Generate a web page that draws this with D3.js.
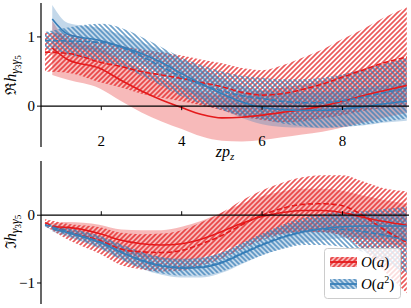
<!DOCTYPE html>
<html><head><meta charset="utf-8">
<script src="https://cdn.jsdelivr.net/npm/d3@7"></script>
<style>body{margin:0;background:#fff}svg{display:block}text{font-family:"Liberation Serif","DejaVu Serif",serif}</style>
</head><body><svg id="c" width="411" height="308"></svg>
<script>
// ---- data ----
const xSolid  = [0.78,1.17,1.95,2.5,3,3.5,4,4.5,5,5.5,6,6.5,7,7.5,8,8.5,9,9.6];
const xDashed = [0.6,1.2,2,2.5,3,3.5,4,4.5,5,5.5,6,6.5,7,7.5,8,8.5,9,9.6];
const xTicks = [2,4,6,8];
const topYTicks = [0,1];
const botYTicks = [-1,0];
const legendBase = ["a","a"];
const legendSup = ["","2"];

// top panel (real part)
const reRedSolid     = [0.84,0.67,0.55,0.37,0.22,0.09,-0.02,-0.12,-0.17,-0.16,-0.13,-0.09,-0.05,0.0,0.07,0.15,0.22,0.30];
const reRedSolidErr  = [0.39,0.29,0.29,0.30,0.31,0.31,0.31,0.32,0.33,0.35,0.36,0.36,0.36,0.37,0.38,0.39,0.39,0.40];
const reRedDashed    = [0.78,0.76,0.63,0.57,0.50,0.45,0.40,0.34,0.28,0.20,0.16,0.18,0.24,0.32,0.42,0.52,0.62,0.71];
const reRedDashedErr = [0.28,0.28,0.29,0.30,0.32,0.33,0.33,0.33,0.34,0.35,0.36,0.41,0.46,0.50,0.55,0.59,0.65,0.72];
const reBlueSolid    = [1.26,1.04,0.95,0.86,0.76,0.63,0.47,0.32,0.18,0.06,-0.02,-0.05,-0.06,-0.06,-0.04,-0.01,0.03,0.07];
const reBlueSolidErr = [0.20,0.16,0.18,0.17,0.16,0.18,0.20,0.22,0.22,0.23,0.24,0.25,0.25,0.26,0.26,0.27,0.27,0.28];
const reBlueDashed   = [0.95,0.94,0.92,0.85,0.72,0.57,0.42,0.31,0.22,0.15,0.11,0.07,0.05,0.05,0.08,0.13,0.19,0.26];
const reBlueDashedErr= [0.12,0.20,0.27,0.28,0.28,0.28,0.28,0.28,0.28,0.29,0.30,0.32,0.34,0.36,0.38,0.40,0.42,0.44];

// bottom panel (imaginary part)
const imRedSolid     = [-0.17,-0.18,-0.27,-0.37,-0.42,-0.44,-0.42,-0.35,-0.24,-0.12,-0.02,0.04,0.07,0.07,0.04,-0.03,-0.09,-0.15];
const imRedSolidErr  = [0.05,0.08,0.13,0.16,0.20,0.22,0.25,0.27,0.28,0.29,0.30,0.31,0.32,0.32,0.32,0.32,0.32,0.32];
const imRedDashed    = [-0.11,-0.25,-0.38,-0.50,-0.54,-0.55,-0.52,-0.42,-0.30,-0.14,0.0,0.10,0.16,0.17,0.14,0.0,-0.20,-0.40];
const imRedDashedErr = [0.05,0.12,0.20,0.24,0.26,0.28,0.30,0.32,0.34,0.36,0.37,0.38,0.40,0.42,0.45,0.50,0.60,0.75];
const imBlueSolid    = [-0.20,-0.26,-0.40,-0.55,-0.67,-0.75,-0.78,-0.77,-0.70,-0.57,-0.44,-0.33,-0.25,-0.20,-0.17,-0.16,-0.16,-0.16];
const imBlueSolidErr = [0.04,0.06,0.09,0.11,0.12,0.13,0.14,0.15,0.15,0.15,0.15,0.16,0.16,0.17,0.17,0.18,0.18,0.20];
const imBlueDashed   = [-0.14,-0.25,-0.40,-0.54,-0.66,-0.74,-0.77,-0.76,-0.69,-0.56,-0.43,-0.32,-0.24,-0.21,-0.21,-0.24,-0.29,-0.37];
const imBlueDashedErr= [0.03,0.06,0.09,0.11,0.12,0.12,0.12,0.13,0.14,0.15,0.16,0.18,0.20,0.23,0.26,0.30,0.38,0.50];

// ---- drawing ----
const RED = "#e41a1c", BLUE = "#377eb8";
const svg = d3.select("#c");
const x = d3.scaleLinear().domain([0.5, 9.63]).range([41, 408]);
const yTop = d3.scaleLinear().domain([-0.59, 1.49]).range([147, 3]);
const yBot = d3.scaleLinear().domain([-1.31, 0.80]).range([304, 161]);

const defs = svg.append("defs");
function hatch(id, color, dir) {
  const s = 5;
  const p = defs.append("pattern").attr("id", id).attr("patternUnits", "userSpaceOnUse")
    .attr("width", s).attr("height", s);
  const d = dir > 0
    ? `M-1,1 l2,-2 M0,${s} l${s},-${s} M${s-1},${s+1} l2,-2`
    : `M-1,${s-1} l2,2 M0,0 l${s},${s} M${s-1},-1 l2,2`;
  p.append("path").attr("d", d).attr("stroke", color).attr("stroke-width", 1.7)
    .attr("stroke-opacity", 0.72).attr("fill", "none");
}
hatch("hR", RED, 1);
hatch("hB", BLUE, -1);

function panel(y, id, series) {
  defs.append("clipPath").attr("id", id).append("rect")
    .attr("x", x.range()[0]).attr("y", y.range()[1])
    .attr("width", x.range()[1] - x.range()[0]).attr("height", y.range()[0] - y.range()[1]);
  const g = svg.append("g").attr("clip-path", `url(#${id})`);
  const area = (xs, c, e) => d3.area().curve(d3.curveMonotoneX)
    .x((d, i) => x(xs[i])).y0((d, i) => y(c[i] - e[i])).y1((d, i) => y(c[i] + e[i]))(c);
  const line = (xs, c) => d3.line().curve(d3.curveMonotoneX)
    .x((d, i) => x(xs[i])).y(d => y(d))(c);
  series.forEach(s => {
    if (s.dashed) g.append("path").attr("d", area(s.xs, s.c, s.e)).attr("fill", `url(#${s.hatch})`);
    else g.append("path").attr("d", area(s.xs, s.c, s.e)).attr("fill", s.color).attr("fill-opacity", 0.3);
  });
  svg.append("line").attr("x1", x.range()[0]).attr("x2", x.range()[1] + 1)
    .attr("y1", y(0)).attr("y2", y(0)).attr("stroke", "#000").attr("stroke-width", 1.2);
  series.forEach(s => {
    g.append("path").attr("d", line(s.xs, s.c)).attr("fill", "none").attr("stroke", s.color)
      .attr("stroke-width", 1.6).attr("stroke-dasharray", s.dashed ? "5.5,2.4" : null);
  });
  svg.append("line").attr("x1", x.range()[0]).attr("x2", x.range()[0])
    .attr("y1", y.range()[1]).attr("y2", y.range()[0]).attr("stroke", "#000").attr("stroke-width", 1.2);
}

panel(yTop, "clipTop", [
  {xs: xSolid, c: reRedSolid, e: reRedSolidErr, color: RED},
  {xs: xDashed, c: reRedDashed, e: reRedDashedErr, color: RED, dashed: true, hatch: "hR"},
  {xs: xSolid, c: reBlueSolid, e: reBlueSolidErr, color: BLUE},
  {xs: xDashed, c: reBlueDashed, e: reBlueDashedErr, color: BLUE, dashed: true, hatch: "hB"}
]);
panel(yBot, "clipBot", [
  {xs: xSolid, c: imRedSolid, e: imRedSolidErr, color: RED},
  {xs: xDashed, c: imRedDashed, e: imRedDashedErr, color: RED, dashed: true, hatch: "hR"},
  {xs: xSolid, c: imBlueSolid, e: imBlueSolidErr, color: BLUE},
  {xs: xDashed, c: imBlueDashed, e: imBlueDashedErr, color: BLUE, dashed: true, hatch: "hB"}
]);

const fs = 15;
xTicks.forEach(t => {
  svg.append("line").attr("x1", x(t)).attr("x2", x(t)).attr("y1", yTop(0)).attr("y2", yTop(0) + 4)
    .attr("stroke", "#000").attr("stroke-width", 1);
  svg.append("text").attr("x", x(t)).attr("y", 146).attr("text-anchor", "middle")
    .attr("font-size", fs).text(d3.format("d")(t));
  svg.append("line").attr("x1", x(t)).attr("x2", x(t)).attr("y1", yBot(0)).attr("y2", yBot(0) - 4)
    .attr("stroke", "#000").attr("stroke-width", 1);
});
function yAxis(y, ticks) {
  ticks.forEach(t => {
    svg.append("line").attr("x1", 41).attr("x2", 37).attr("y1", y(t)).attr("y2", y(t))
      .attr("stroke", "#000").attr("stroke-width", 1);
    svg.append("text").attr("x", 35).attr("y", y(t) + 5).attr("text-anchor", "end")
      .attr("font-size", fs).text(t < 0 ? "\u2212" + Math.abs(t) : String(t));
  });
}
yAxis(yTop, topYTicks);
yAxis(yBot, botYTicks);

function ylabel(cy, sym) {
  const t = svg.append("text").attr("transform", `translate(16,${cy}) rotate(-90)`)
    .attr("text-anchor", "middle").attr("font-size", 16);
  t.append("tspan").attr("font-family", "DejaVu Serif").attr("font-size", 15).text(sym);
  t.append("tspan").attr("font-style", "italic").text("h");
  t.append("tspan").attr("font-style", "italic").attr("font-size", 12).attr("dy", 3).text("γ");
  t.append("tspan").attr("font-size", 9).attr("dy", 2).text("3");
  t.append("tspan").attr("font-style", "italic").attr("font-size", 12).attr("dy", -2).text("γ");
  t.append("tspan").attr("font-size", 9).attr("dy", 2).text("5");
}
ylabel(75, "\u211C");
ylabel(232, "\u2111");

const xl = svg.append("text").attr("x", 225).attr("y", 157).attr("text-anchor", "middle").attr("font-size", 16);
xl.append("tspan").attr("font-style", "italic").text("zp");
xl.append("tspan").attr("font-style", "italic").attr("font-size", 11).attr("dy", 3).text("z");

// legend
const lg = svg.append("g");
lg.append("rect").attr("x", 324.5).attr("y", 248.5).attr("width", 76).attr("height", 50).attr("rx", 3)
  .attr("fill", "#fff").attr("fill-opacity", 0.8).attr("stroke", "#cccccc").attr("stroke-width", 1);
const legCols = [RED, BLUE], legHatch = ["hR", "hB"];
legendBase.forEach((base, i) => {
  const col = legCols[i];
  const cy = 262 + i * 22;
  lg.append("rect").attr("x", 330).attr("y", cy - 5).attr("width", 27).attr("height", 10)
    .attr("fill", col).attr("fill-opacity", 0.3);
  lg.append("rect").attr("x", 330).attr("y", cy - 5).attr("width", 27).attr("height", 10)
    .attr("fill", `url(#${legHatch[i]})`);
  lg.append("line").attr("x1", 330).attr("x2", 357).attr("y1", cy).attr("y2", cy)
    .attr("stroke", col).attr("stroke-width", 1.8);
  const t = lg.append("text").attr("x", 361).attr("y", cy + 5).attr("font-size", fs);
  t.append("tspan").attr("font-style", "italic").text("O");
  t.append("tspan").text("(");
  t.append("tspan").attr("font-style", "italic").text(base);
  if (legendSup[i]) {
    t.append("tspan").attr("font-size", 10).attr("dy", -6).text(legendSup[i]);
    t.append("tspan").attr("dy", 6).text(")");
  } else {
    t.append("tspan").text(")");
  }
});
</script></body></html>
